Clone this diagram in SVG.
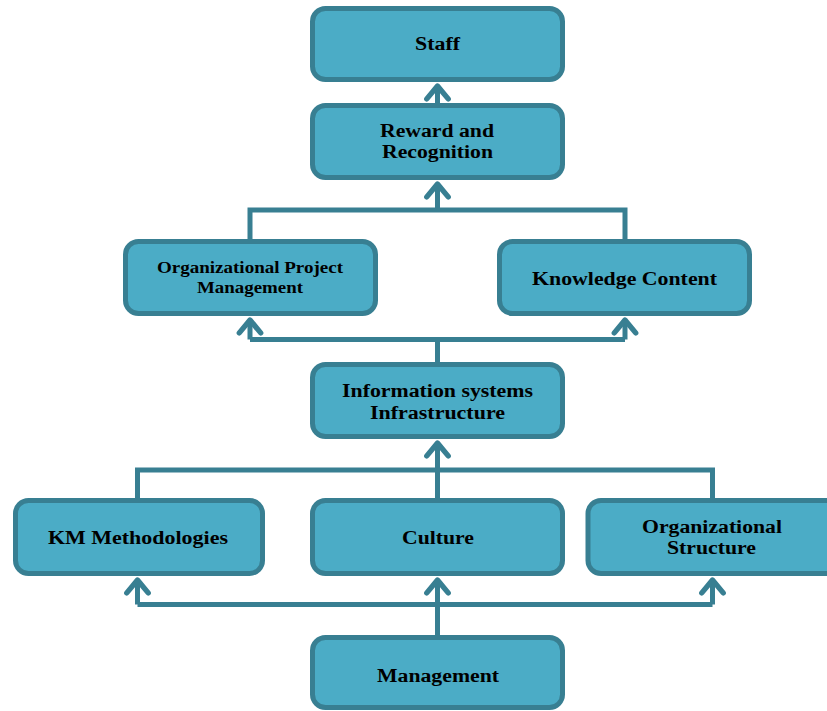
<svg xmlns="http://www.w3.org/2000/svg" width="827" height="711" viewBox="0 0 827 711">
<style>
.box{fill:#4BACC6;stroke:#387F92;stroke-width:5}
.t{font-family:"Liberation Serif","Times New Roman",serif;font-weight:bold;font-size:18px;fill:#000;text-anchor:middle}
.s{font-size:16px}
.c{fill:none;stroke:#387F92;stroke-width:5;stroke-linejoin:miter}
</style>
<defs>
<marker id="ah" markerUnits="userSpaceOnUse" orient="auto" refX="0" refY="0" markerWidth="30" markerHeight="30" viewBox="-16 -14 20 28" overflow="visible">
<path d="M-12,-10 L0,0 L-12,10" fill="none" stroke="#387F92" stroke-width="5" stroke-linecap="round" stroke-linejoin="round"/>
</marker>
</defs>
<rect width="827" height="711" fill="#fff"/>
<g id="connectors" class="c">
<path d="M437.5,103 V86" marker-end="url(#ah)"/>
<path d="M250,239 V210 H625 V239"/>
<path d="M437.5,210 V184" marker-end="url(#ah)"/>
<path d="M437.5,362 V339.5"/>
<path d="M250,339.5 H625"/>
<path d="M250,339.5 V320" marker-end="url(#ah)"/>
<path d="M625,339.5 V320" marker-end="url(#ah)"/>
<path d="M137.5,498 V470 H712.5 V498"/>
<path d="M437.5,498 V443" marker-end="url(#ah)"/>
<path d="M437.5,635 V580" marker-end="url(#ah)"/>
<path d="M137.5,604.5 H712.5"/>
<path d="M137.5,604.5 V580" marker-end="url(#ah)"/>
<path d="M712.5,604.5 V580" marker-end="url(#ah)"/>
</g>
<g id="staff">
<rect class="box" x="312.5" y="8.5" width="250" height="71" rx="13"/>
<text class="t" x="437.5" y="50" textLength="45" lengthAdjust="spacingAndGlyphs">Staff</text>
</g>
<g id="reward">
<rect class="box" x="312.5" y="105.5" width="250" height="72" rx="13"/>
<text class="t" x="437" y="137" textLength="114" lengthAdjust="spacingAndGlyphs">Reward and</text>
<text class="t" x="437.5" y="158" textLength="111" lengthAdjust="spacingAndGlyphs">Recognition</text>
</g>
<g id="opm">
<rect class="box" x="125.5" y="241.5" width="250" height="72" rx="13"/>
<text class="t s" x="250" y="273" textLength="186" lengthAdjust="spacingAndGlyphs">Organizational Project</text>
<text class="t s" x="250" y="293" textLength="106" lengthAdjust="spacingAndGlyphs">Management</text>
</g>
<g id="knowledge">
<rect class="box" x="499.5" y="241.5" width="250" height="72" rx="13"/>
<text class="t" x="624.5" y="285" textLength="185" lengthAdjust="spacingAndGlyphs">Knowledge Content</text>
</g>
<g id="infosys">
<rect class="box" x="312.5" y="364.5" width="250" height="72" rx="13"/>
<text class="t" x="437.5" y="397" textLength="191" lengthAdjust="spacingAndGlyphs">Information systems</text>
<text class="t" x="437.5" y="419" textLength="135" lengthAdjust="spacingAndGlyphs">Infrastructure</text>
</g>
<g id="km">
<rect class="box" x="15.5" y="500.5" width="247" height="73" rx="13"/>
<text class="t" x="138" y="544" textLength="180" lengthAdjust="spacingAndGlyphs">KM Methodologies</text>
</g>
<g id="culture">
<rect class="box" x="312.5" y="500.5" width="250" height="73" rx="13"/>
<text class="t" x="438" y="544" textLength="72" lengthAdjust="spacingAndGlyphs">Culture</text>
</g>
<g id="orgstructure">
<rect class="box" x="588" y="500.5" width="260" height="73" rx="13"/>
<text class="t" x="712" y="533" textLength="140" lengthAdjust="spacingAndGlyphs">Organizational</text>
<text class="t" x="711.5" y="554" textLength="89" lengthAdjust="spacingAndGlyphs">Structure</text>
</g>
<g id="management">
<rect class="box" x="312.5" y="637.5" width="250" height="70" rx="13"/>
<text class="t" x="438" y="682" textLength="122" lengthAdjust="spacingAndGlyphs">Management</text>
</g>
</svg>
